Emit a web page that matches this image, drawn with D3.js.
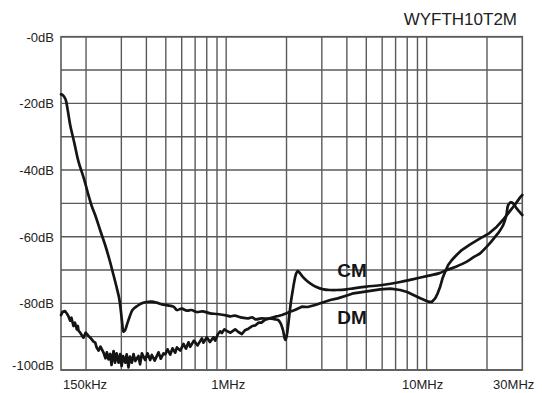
<!DOCTYPE html>
<html>
<head>
<meta charset="utf-8">
<script src="https://cdn.jsdelivr.net/npm/d3@7/dist/d3.min.js"></script>
<style>
  html, body { margin: 0; padding: 0; background: #fff; }
  svg { display: block; font-family: "Liberation Sans", Arial, Helvetica, sans-serif; }
</style>
</head>
<body>
<svg id="chart" width="542" height="393"></svg>
<script>
// ---------- data ----------
const title = "WYFTH10T2M";
const yTickValues = [0, -20, -40, -60, -80, -100];
const yTickLabels = ["-0dB", "-20dB", "-40dB", "-60dB", "-80dB", "-100dB"];
const xTickValues = [0.15, 1, 10, 30];
const xTickLabels = ["150kHz", "1MHz", "10MHz", "30MHz"];
const xGridValues = [0.2, 0.3, 0.4, 0.5, 0.6, 0.7, 0.8, 0.9, 1, 2, 3, 4, 5, 6, 7, 8, 9, 10, 20];
const yGridValues = [0, -10, -20, -30, -40, -50, -60, -70, -80, -90, -100];
const seriesNames = ["CM", "DM"];
const seriesLabelAt = [[4.25, -72.2], [4.25, -86.2]];

// CM curve: frequency (MHz), attenuation (dB)
const cmFreq = [0.15, 0.153, 0.158, 0.162, 0.1667, 0.175, 0.1834, 0.195, 0.2056, 0.214, 0.2221, 0.235, 0.2491, 0.262, 0.2741, 0.285, 0.2926, 0.298, 0.303, 0.3075, 0.3135, 0.3196, 0.33, 0.3409, 0.36, 0.3798, 0.40, 0.4259, 0.45, 0.4779, 0.51, 0.546, 0.568, 0.6, 0.637, 0.67, 0.714, 0.76, 0.832, 0.9, 1.0, 1.05, 1.1, 1.2, 1.29, 1.35, 1.4, 1.5, 1.6, 1.657, 1.75, 1.817, 1.87, 1.92, 1.97, 2.0, 2.039, 2.075, 2.11, 2.15, 2.184, 2.23, 2.273, 2.33, 2.393, 2.5, 2.624, 2.8, 3.058, 3.3, 3.566, 4.0, 4.314, 5, 6, 7.377, 8.5, 10.41, 11.5, 12.62, 14, 15.87, 17.3, 18.49, 19.95, 21, 22, 23, 24.1, 25, 25.5, 26.3, 27, 28.1, 29, 30];
const cmDb = [-17.3, -17.5, -18.8, -22, -26.5, -32, -37.5, -42.5, -47.5, -51, -53.5, -58, -62.5, -67, -71.5, -75.5, -78.5, -82, -86, -88.5, -88, -86.5, -84, -82, -80.8, -80, -79.6, -79.5, -79.8, -80.3, -80.6, -81, -82, -81.6, -82.2, -82, -82.6, -82.4, -83, -83.2, -83.6, -83.9, -83.7, -84.3, -84.5, -84.2, -84.8, -84.5, -84.6, -84.5, -84.8, -85, -86, -88, -91, -90, -86.5, -82.5, -79, -76, -73.6, -71.2, -70.3, -70.9, -71.8, -73, -74, -75, -75.8, -76, -76, -75.8, -75.5, -75, -74.5, -73.6, -72.8, -71.6, -71, -70, -69, -67.5, -66, -65, -63, -61.5, -60, -58.5, -56.5, -53.5, -50.5, -49.7, -50, -51.5, -52.5, -53.5];

// DM curve: frequency (MHz), attenuation (dB)
const dmFreq = [0.15, 0.153, 0.157, 0.161, 0.1637, 0.1667, 0.169, 0.1731, 0.176, 0.1799, 0.182, 0.1834, 0.187, 0.1942, 0.199, 0.2058, 0.21, 0.2179, 0.2222, 0.226, 0.2308, 0.236, 0.2445, 0.25, 0.254, 0.259, 0.264, 0.268, 0.2743, 0.279, 0.284, 0.2906, 0.296, 0.301, 0.306, 0.3137, 0.319, 0.3256, 0.331, 0.3383, 0.345, 0.352, 0.3651, 0.372, 0.38, 0.3942, 0.405, 0.4176, 0.4258, 0.44, 0.4598, 0.472, 0.487, 0.4965, 0.51, 0.5259, 0.54, 0.5571, 0.5678, 0.59, 0.6124, 0.63, 0.6485, 0.6613, 0.69, 0.72, 0.7565, 0.7707, 0.8, 0.83, 0.8643, 0.8813, 0.91, 0.9334, 0.9518, 0.98, 1.008, 1.05, 1.109, 1.15, 1.198, 1.24, 1.292, 1.35, 1.4, 1.449, 1.5, 1.565, 1.65, 1.755, 1.82, 1.897, 2.0, 2.085, 2.2, 2.385, 2.55, 2.781, 3.0, 3.304, 3.6, 4.074, 4.315, 4.941, 5.858, 6.6, 7.377, 8.0, 8.59, 9.3, 10.2, 10.6, 11.03, 11.35, 11.68, 12.0, 12.37, 12.8, 13.36, 14.1, 14.97, 16.5, 18.49, 20.5, 22.39, 24.0, 25.5, 27.5, 29.26, 30];
const dmDb = [-83.5, -82.5, -82.3, -83.2, -84, -85.2, -84.3, -86.8, -85.8, -87.8, -86.8, -88.2, -88.8, -90.3, -88.8, -89.8, -90.3, -91.5, -91.8, -93.3, -94.2, -93, -94.8, -96.5, -94.7, -96.8, -95.2, -98.5, -94.3, -97.8, -95, -97.8, -95.2, -98.8, -95.8, -97.8, -95.3, -99.2, -96, -97.8, -95.2, -97.3, -95.8, -98.3, -95, -97, -95, -97, -95.5, -97.2, -94.7, -96.6, -95, -95.3, -93.8, -95.4, -93.5, -94.8, -93.2, -94.2, -92.2, -93.6, -91.7, -93, -91.2, -92.6, -90.5, -91.8, -90.2, -91.6, -90.2, -91.2, -89.2, -88.4, -88.9, -87.8, -88.3, -88.8, -87.8, -88.6, -89.2, -88.1, -87.6, -86.8, -86.6, -85.8, -85.8, -84.9, -84.5, -84, -83.8, -83.5, -83, -82.5, -82, -81, -81.1, -80.5, -79.8, -79, -78.5, -77.5, -77, -76.5, -75.8, -75.6, -76, -76.6, -77.5, -78.5, -79.5, -79.6, -78.5, -77, -75, -72.5, -70.5, -68.5, -67, -65.5, -64, -62.3, -60.5, -59, -57, -55, -53, -50.5, -48.2, -47.5];

// ---------- layout ----------
const svg = d3.select("#chart");
const plotLeft = 61, plotRight = 522.3, plotTop = 36.7, plotBottom = 370;
const gridColor = "#5a5a5a";
const lineColor = "#151515";

const x = d3.scaleLog().domain([0.15, 30]).range([plotLeft, plotRight]);
const y = d3.scaleLinear().domain([0, -100]).range([plotTop, plotBottom]);

// grid
const g = svg.append("g");
g.selectAll("line.h").data(yGridValues).join("line")
  .attr("x1", plotLeft).attr("x2", plotRight)
  .attr("y1", d => y(d)).attr("y2", d => y(d))
  .attr("stroke", gridColor).attr("stroke-width", 1.4);
g.selectAll("line.v").data(xGridValues).join("line")
  .attr("y1", plotTop).attr("y2", plotBottom)
  .attr("x1", d => x(d)).attr("x2", d => x(d))
  .attr("stroke", gridColor).attr("stroke-width", 1.4);
g.append("rect").attr("x", plotLeft).attr("y", plotTop)
  .attr("width", plotRight - plotLeft).attr("height", plotBottom - plotTop)
  .attr("fill", "none").attr("stroke", gridColor).attr("stroke-width", 1.6);

// y labels
svg.append("g").selectAll("text").data(yTickValues).join("text")
  .attr("x", plotLeft - 7)
  .attr("y", d => Math.min(y(d) + 5, plotBottom))
  .attr("text-anchor", "end")
  .attr("font-size", 13).attr("fill", "#222")
  .text((d, i) => yTickLabels[i]);

// x labels
const xAnchor = ["start", "middle", "middle", "end"];
const xShift = [2, 2, -4, 12];
svg.append("g").selectAll("text").data(xTickValues).join("text")
  .attr("x", (d, i) => x(d) + xShift[i])
  .attr("y", 389)
  .attr("text-anchor", (d, i) => xAnchor[i])
  .attr("font-size", 13).attr("fill", "#222")
  .text((d, i) => xTickLabels[i]);

// title
svg.append("text").attr("x", 517).attr("y", 25)
  .attr("text-anchor", "end").attr("font-size", 17).attr("fill", "#222")
  .text(title);

// curves
const cm = cmFreq.map((f, i) => [f, cmDb[i]]);
const dm = dmFreq.map((f, i) => [f, dmDb[i]]);
const smooth = d3.line().x(d => x(d[0])).y(d => y(d[1])).curve(d3.curveCatmullRom.alpha(0.5));
const straight = d3.line().x(d => x(d[0])).y(d => y(d[1]));

svg.append("path").attr("d", smooth(cm))
  .attr("fill", "none").attr("stroke", lineColor).attr("stroke-width", 2.7)
  .attr("stroke-linejoin", "round").attr("stroke-linecap", "round");
svg.append("path").attr("d", straight(dm))
  .attr("fill", "none").attr("stroke", lineColor).attr("stroke-width", 2.7)
  .attr("stroke-linejoin", "round").attr("stroke-linecap", "round");

// series labels
svg.append("g").selectAll("text").data(seriesNames).join("text")
  .attr("x", (d, i) => x(seriesLabelAt[i][0]))
  .attr("y", (d, i) => y(seriesLabelAt[i][1]))
  .attr("text-anchor", "middle").attr("font-size", 19).attr("font-weight", "bold")
  .attr("fill", lineColor)
  .text(d => d);
</script>
</body>
</html>
